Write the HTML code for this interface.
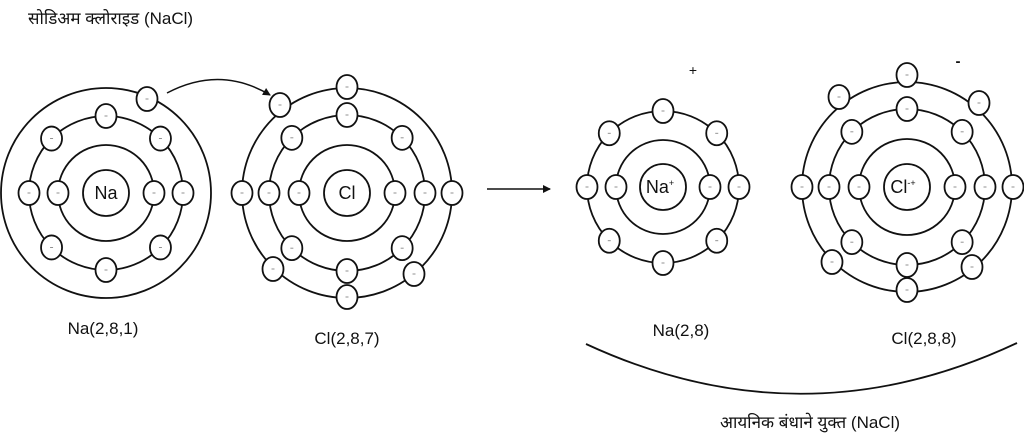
<!DOCTYPE html>
<html><head><meta charset="utf-8"><style>
html,body{margin:0;padding:0;background:#fff;}
svg{display:block;font-family:"Liberation Sans","DejaVu Sans",sans-serif;}
</style></head><body>
<svg id="s" width="1024" height="444" viewBox="0 0 1024 444" xmlns="http://www.w3.org/2000/svg">
<defs><marker id="ah" markerWidth="8" markerHeight="8" refX="7" refY="4" orient="auto" markerUnits="userSpaceOnUse"><path d="M0,0 L8,4 L0,8 z" fill="#111"/></marker></defs>
<g fill="none" stroke="#111" stroke-width="1.8">
<circle cx="106" cy="193" r="23"/><circle cx="106" cy="193" r="48"/><circle cx="106" cy="193" r="77"/><circle cx="106" cy="193" r="105"/>
<circle cx="347" cy="193" r="23"/><circle cx="347" cy="193" r="48"/><circle cx="347" cy="193" r="78"/><circle cx="347" cy="193" r="105"/>
<circle cx="663" cy="187" r="23"/><circle cx="663" cy="187" r="47"/><circle cx="663" cy="187" r="76"/>
<circle cx="907" cy="187" r="23"/><circle cx="907" cy="187" r="48"/><circle cx="907" cy="187" r="78"/><circle cx="907" cy="187" r="105"/>
<path d="M167,93 Q220,65 270,95" marker-end="url(#ah)" stroke-width="1.5"/>
<line x1="487" y1="189" x2="550" y2="189" marker-end="url(#ah)" stroke-width="1.5"/>
<path d="M586,344 Q802,444 1017,343"/>
</g>
<g id="e"></g>
<g fill="#111" font-size="17">
<text x="106" y="199" text-anchor="middle" font-size="18">Na</text>
<text x="347" y="199" text-anchor="middle" font-size="18">Cl</text>
<text x="660" y="193" text-anchor="middle" font-size="18">Na<tspan font-size="9" dy="-7">+</tspan></text>
<text x="903" y="193" text-anchor="middle" font-size="18">Cl<tspan font-size="9" dy="-7">-+</tspan></text>
<text x="693" y="75" text-anchor="middle" font-size="14">+</text>
<text x="958" y="66" text-anchor="middle" font-size="15" font-weight="bold">-</text>
<text x="103" y="334" text-anchor="middle">Na(2,8,1)</text>
<text x="347" y="344" text-anchor="middle">Cl(2,8,7)</text>
<text x="681" y="336" text-anchor="middle">Na(2,8)</text>
<text x="924" y="344" text-anchor="middle">Cl(2,8,8)</text>
<text x="28" y="24" font-family="'Liberation Sans','Noto Sans Devanagari','Lohit Devanagari',sans-serif">सोडिअम क्लोराइड (NaCl)</text>
<text x="810" y="428" text-anchor="middle" font-family="'Liberation Sans','Noto Sans Devanagari','Lohit Devanagari',sans-serif">आयनिक बंधाने युक्त (NaCl)</text>
</g>
</svg>
<script>
var g=document.getElementById('e'),ns="http://www.w3.org/2000/svg";
function el(x,y){var c=document.createElementNS(ns,'ellipse');c.setAttribute('cx',x);c.setAttribute('cy',y);c.setAttribute('rx',10.5);c.setAttribute('ry',12);c.setAttribute('fill','#fff');c.setAttribute('stroke','#111');c.setAttribute('stroke-width','1.8');g.appendChild(c);
var t=document.createElementNS(ns,'line');t.setAttribute('x1',x-1.5);t.setAttribute('x2',x+1.5);t.setAttribute('y1',y);t.setAttribute('y2',y);t.setAttribute('stroke','#777');t.setAttribute('stroke-width','0.8');g.appendChild(t);}
function ring(cx,cy,r,n,off){for(var i=0;i<n;i++){var a=(off||0)+i*2*Math.PI/n;el(cx+r*Math.cos(a),cy+r*Math.sin(a));}}
ring(106,193,48,2);ring(106,193,77,8);el(147,99);
ring(347,193,48,2);ring(347,193,78,8);
[[242,193],[452,193],[347,87],[280,105],[273,269],[414,274],[347,297]].forEach(function(p){el(p[0],p[1]);});
ring(663,187,47,2);ring(663,187,76,8);
ring(907,187,48,2);ring(907,187,78,8);
[[907,75],[839,97],[979,103],[802,187],[1013,187],[832,262],[972,267],[907,290]].forEach(function(p){el(p[0],p[1]);});
</script>
</body></html>
